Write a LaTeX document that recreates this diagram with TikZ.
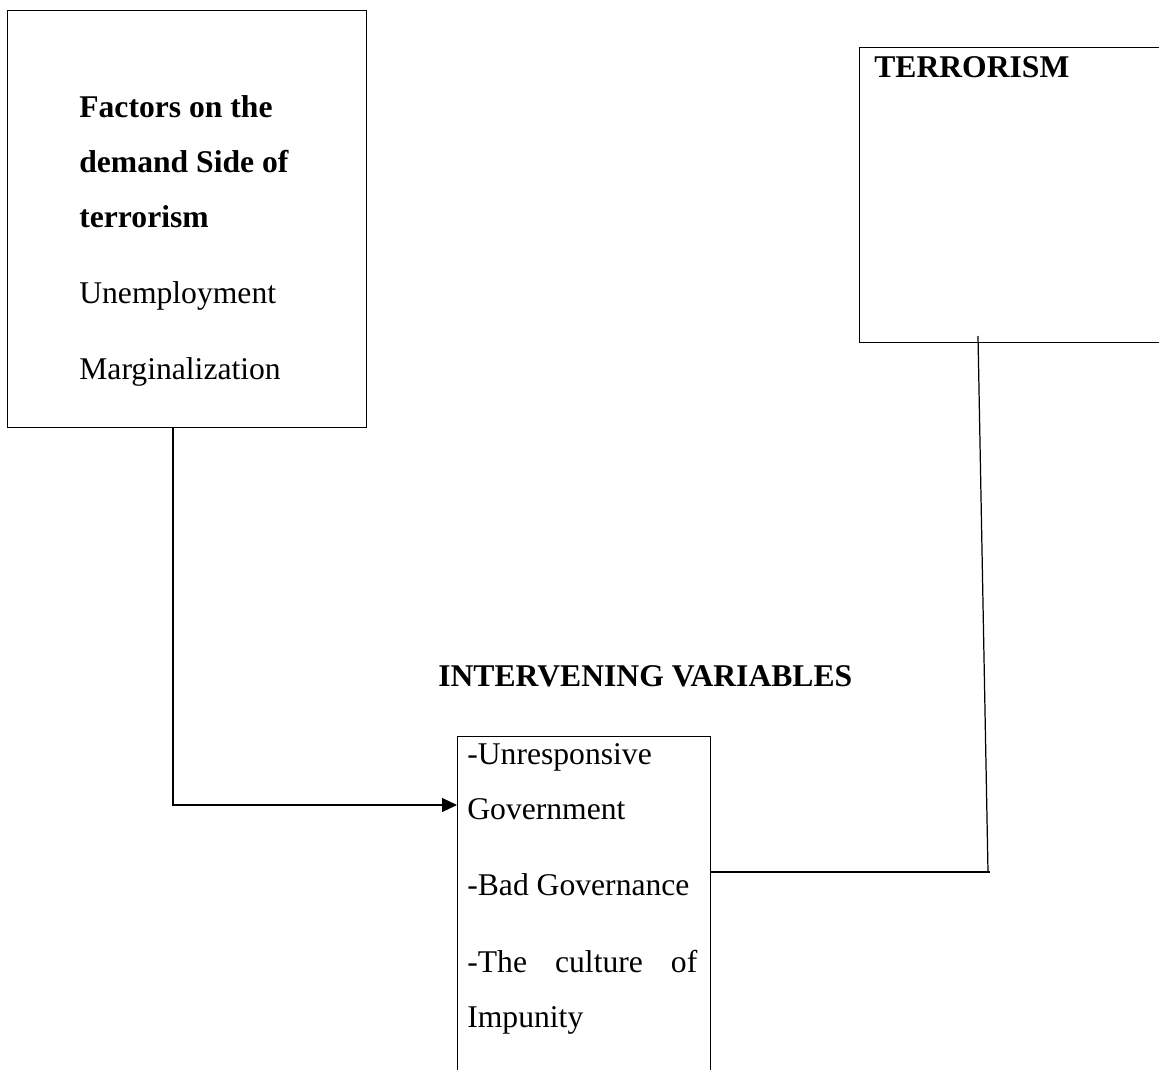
\documentclass[tikz,border=0pt]{standalone}
\usepackage{fontspec}
\setmainfont{Liberation Serif}
\usetikzlibrary{arrows.meta,positioning}

\tikzset{
  frame/.style={draw, line width=0.7pt, inner sep=0pt, anchor=north west},
  boxtext/.style={anchor=base west, inner sep=0pt, align=left,
    font=\fontsize{18}{31.3}\selectfont},
  link/.style={line width=0.7pt},
  arr/.style={link, -{Triangle[length=0.3cm,width=0.28cm]}}
}

\begin{document}
\begin{tikzpicture}[x=0.02cm, y=-0.02cm]
\useasboundingbox (0,0) rectangle (1159,1070);

% the three boxes
\node[frame, minimum width=7.18cm, minimum height=8.34cm] (demand) at (7,10) {};
\node[frame, minimum width=6.4cm, minimum height=5.9cm] (terror) at (859,47) {};
\node[frame, minimum width=5.06cm, minimum height=8cm] (vars) at (457,736) {};

% texts (base = last line)
\node[boxtext] (demandtxt) at (79,380) {\textbf{Factors on the}\\
  \textbf{demand Side of}\\ \textbf{terrorism}\\[12pt]
  Unemployment\\[12pt] Marginalization};
\node[boxtext, font=\bfseries\fontsize{18}{31.3}\selectfont] (terrortxt) at (874,78) {TERRORISM};
\node[boxtext, font=\bfseries\fontsize{18}{31.3}\selectfont] (heading) at (438,686) {INTERVENING VARIABLES};
\node[boxtext] (varstxt) at (467,1027) {-Unresponsive\\ Government\\[12pt]
  -Bad Governance\\[12pt] \makebox[4.6cm][s]{-The\hfill culture\hfill of}\\ Impunity};

% connectors
\coordinate (elbow) at (173,805);
\coordinate (drop) at (978,336);
\coordinate (join) at (988,872);
\draw[arr] (elbow |- demand.south) |- (vars.west |- elbow);
\draw[link] (vars.east |- join) -- ([xshift=0.04cm]join);
\draw[link] (join) -- (drop);
\end{tikzpicture}
\end{document}
